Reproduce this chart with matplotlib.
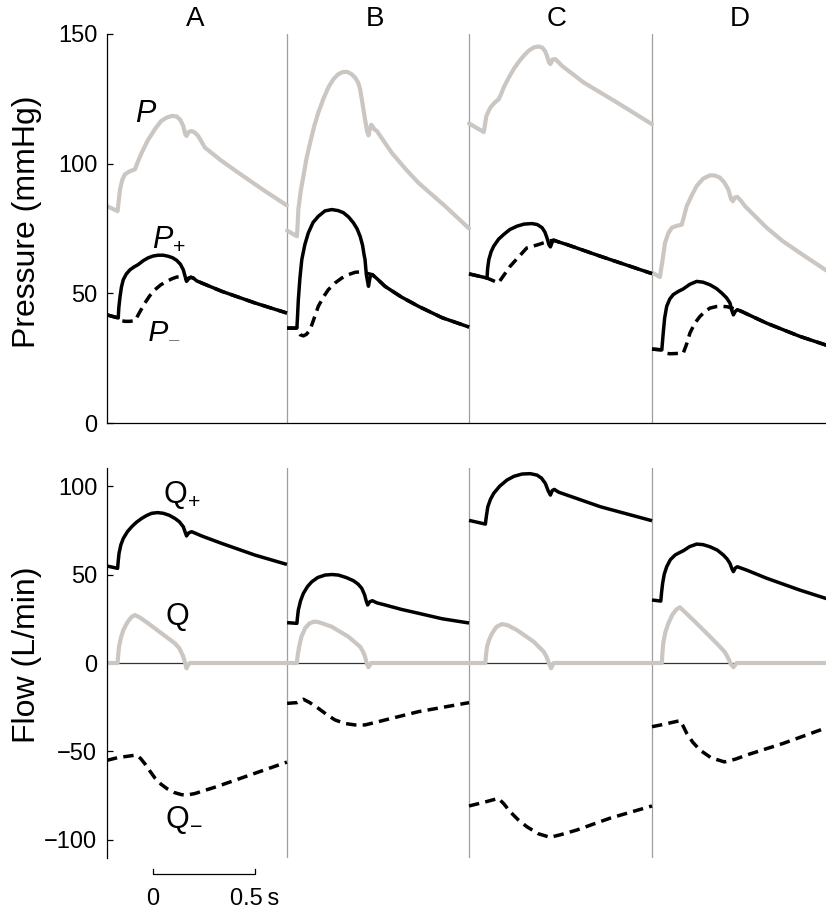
import matplotlib
matplotlib.use("Agg")
import matplotlib.pyplot as plt
from matplotlib.transforms import blended_transform_factory

plt.rcParams['font.family'] = ['Liberation Sans', 'DejaVu Sans']
plt.rcParams['mathtext.fontset'] = 'custom'
plt.rcParams['mathtext.rm'] = 'Liberation Sans'
plt.rcParams['mathtext.it'] = 'Liberation Sans:italic'

# ---------------------------------------------------------------------------
# Data: one beat per column, time in s from the start of each column
# ---------------------------------------------------------------------------
columns = ['A', 'B', 'C', 'D']
beat_start = [-0.226, 0.657, 1.549, 2.446]   # s, relative to the scale bar's zero
x_end = 3.299

# Pressure P (mmHg)
P_t = [
    [0, 0.052, 0.058, 0.064, 0.075, 0.088, 0.110, 0.137, 0.150, 0.170, 0.200, 0.235, 0.265, 0.293, 0.318, 0.342,
     0.360, 0.374, 0.383, 0.390, 0.400, 0.415, 0.430, 0.447, 0.480, 0.560, 0.644, 0.775, 0.882],
    [0, 0.048, 0.052, 0.055, 0.067, 0.080, 0.095, 0.113, 0.133, 0.153, 0.178, 0.202, 0.227, 0.251, 0.272, 0.293,
     0.315, 0.333, 0.348, 0.358, 0.370, 0.382, 0.392, 0.399, 0.406, 0.412, 0.418, 0.428, 0.440, 0.513, 0.580,
     0.644, 0.775, 0.892],
    [0, 0.072, 0.078, 0.085, 0.104, 0.125, 0.146, 0.158, 0.170, 0.195, 0.219, 0.245, 0.268, 0.293, 0.317, 0.340,
     0.358, 0.372, 0.382, 0.392, 0.399, 0.410, 0.423, 0.440, 0.456, 0.562, 0.725, 0.897],
    [0, 0.039, 0.045, 0.052, 0.064, 0.080, 0.097, 0.120, 0.146, 0.158, 0.170, 0.195, 0.219, 0.250, 0.284, 0.310,
     0.333, 0.355, 0.374, 0.387, 0.396, 0.407, 0.418, 0.435, 0.456, 0.562, 0.640, 0.725, 0.855],
]
P = [
    [83.6, 81.7, 86.0, 90.1, 93.8, 95.9, 97.0, 97.8, 100.5, 104.2, 109.0, 113.3, 116.4, 117.8, 118.4, 118.2,
     116.8, 114.5, 111.5, 110.7, 112.2, 112.6, 112.0, 110.7, 106.2, 101.2, 96.5, 89.4, 83.9],
    [74.2, 72.0, 77.0, 82.3, 89.5, 95.2, 102.0, 108.1, 114.5, 119.7, 125.0, 129.4, 132.6, 134.5, 135.3, 135.4,
     134.6, 133.2, 131.3, 128.7, 123.0, 117.1, 112.5, 110.9, 113.5, 115.0, 114.5, 113.2, 112.6, 104.2, 98.0,
     92.6, 83.6, 75.0],
    [115.5, 112.2, 115.0, 118.4, 121.6, 123.5, 124.9, 127.0, 129.4, 133.2, 136.5, 139.4, 141.6, 143.6, 144.8, 145.2,
     144.8, 143.5, 141.6, 139.0, 138.4, 140.2, 140.3, 139.0, 137.7, 131.3, 123.6, 115.2],
    [58.0, 56.3, 59.5, 63.0, 69.5, 73.2, 75.3, 76.0, 76.5, 80.0, 83.6, 87.8, 91.4, 94.2, 95.5, 95.4,
     94.6, 92.7, 90.1, 86.5, 85.5, 87.0, 87.2, 85.8, 83.6, 75.3, 70.2, 65.6, 58.8],
]

# Forward pressure P+ (mmHg)
Pf_t = [
    [0, 0.055, 0.058, 0.064, 0.071, 0.080, 0.095, 0.113, 0.133, 0.153, 0.178, 0.202, 0.227, 0.251, 0.276, 0.300,
     0.322, 0.342, 0.360, 0.374, 0.383, 0.390, 0.400, 0.411, 0.423, 0.440, 0.464, 0.562, 0.725, 0.882],
    [0, 0.048, 0.051, 0.055, 0.063, 0.072, 0.087, 0.104, 0.127, 0.153, 0.186, 0.219, 0.250, 0.276, 0.302, 0.325,
     0.343, 0.358, 0.370, 0.377, 0.382, 0.387, 0.390, 0.399, 0.405, 0.410, 0.418, 0.440, 0.480, 0.560, 0.644,
     0.760, 0.892],
    [0, 0.088, 0.091, 0.097, 0.108, 0.121, 0.145, 0.170, 0.200, 0.235, 0.270, 0.309, 0.335, 0.358, 0.372, 0.382,
     0.392, 0.399, 0.407, 0.415, 0.440, 0.480, 0.644, 0.897],
    [0, 0.048, 0.051, 0.055, 0.062, 0.072, 0.087, 0.104, 0.128, 0.153, 0.186, 0.219, 0.250, 0.284, 0.315, 0.342,
     0.365, 0.382, 0.392, 0.399, 0.408, 0.418, 0.440, 0.464, 0.562, 0.725, 0.855],
]
Pf = [
    [41.7, 40.5, 44.5, 48.8, 52.5, 55.3, 57.5, 59.1, 60.2, 61.1, 62.6, 63.7, 64.4, 64.7, 64.7, 64.3,
     63.7, 62.7, 61.2, 59.1, 56.5, 54.6, 55.6, 56.2, 55.9, 54.8, 54.0, 50.8, 46.3, 42.4],
    [36.6, 36.6, 41.0, 47.5, 56.0, 63.0, 68.8, 73.3, 77.3, 79.7, 81.8, 82.3, 81.9, 81.1, 79.4, 77.2,
     74.9, 72.0, 68.5, 65.0, 63.0, 58.5, 56.5, 52.7, 55.5, 57.0, 57.2, 55.7, 52.7, 48.6, 45.0,
     40.6, 37.0],
    [57.5, 55.9, 59.5, 63.0, 66.0, 68.2, 70.9, 72.7, 74.6, 75.9, 76.7, 76.9, 76.5, 75.3, 73.6, 71.4,
     68.7, 67.9, 69.6, 70.5, 69.8, 68.8, 64.3, 57.6],
    [28.5, 28.2, 31.0, 34.7, 40.5, 45.0, 47.8, 49.5, 50.7, 51.7, 53.5, 54.6, 54.3, 53.3, 51.9, 50.1,
     48.3, 46.3, 43.2, 41.7, 43.0, 43.7, 43.0, 42.1, 38.5, 33.4, 30.0],
]

# Backward pressure P- (mmHg)
Pb_t = [
    [0, 0.055, 0.075, 0.088, 0.110, 0.137, 0.160, 0.186, 0.210, 0.235, 0.264, 0.293, 0.318, 0.342, 0.365, 0.390,
     0.411, 0.423, 0.440, 0.464, 0.562, 0.725, 0.882],
    [0, 0.048, 0.065, 0.080, 0.095, 0.113, 0.133, 0.153, 0.178, 0.202, 0.235, 0.268, 0.300, 0.333, 0.358, 0.382,
     0.418, 0.440, 0.480, 0.560, 0.644, 0.760, 0.892],
    [0, 0.088, 0.144, 0.201, 0.283, 0.340, 0.389, 0.415, 0.440, 0.480, 0.644, 0.897],
    [0, 0.048, 0.070, 0.088, 0.153, 0.170, 0.186, 0.210, 0.235, 0.260, 0.284, 0.315, 0.342, 0.370, 0.391,
     0.418, 0.440, 0.464, 0.562, 0.725, 0.855],
]
Pb = [
    [41.7, 40.5, 39.4, 39.2, 39.2, 39.4, 42.7, 46.3, 49.1, 51.4, 53.3, 54.6, 55.6, 56.3, 56.3, 55.5,
     56.2, 55.9, 54.8, 54.0, 50.8, 46.3, 42.4],
    [36.6, 36.6, 34.0, 33.6, 34.2, 36.0, 40.5, 45.0, 48.6, 51.4, 54.0, 55.9, 57.2, 58.1, 58.3, 57.9,
     57.2, 55.7, 52.7, 48.6, 45.0, 40.6, 37.0],
    [57.5, 55.9, 54.0, 60.4, 67.5, 68.8, 70.1, 70.5, 69.8, 68.8, 64.3, 57.6],
    [28.5, 28.2, 26.9, 26.7, 26.9, 30.5, 34.7, 38.5, 41.1, 43.0, 44.3, 44.9, 45.0, 44.8, 44.3,
     43.7, 43.0, 42.1, 38.5, 33.4, 30.0],
]

# Forward flow Q+ (L/min)
Qf_t = [
    [0, 0.052, 0.055, 0.059, 0.068, 0.080, 0.100, 0.121, 0.145, 0.170, 0.195, 0.219, 0.248, 0.276, 0.305, 0.333,
     0.355, 0.374, 0.383, 0.390, 0.400, 0.415, 0.440, 0.464, 0.562, 0.725, 0.882],
    [0, 0.048, 0.051, 0.055, 0.066, 0.080, 0.100, 0.121, 0.150, 0.186, 0.220, 0.251, 0.290, 0.325, 0.348, 0.366,
     0.380, 0.388, 0.395, 0.405, 0.418, 0.440, 0.480, 0.560, 0.644, 0.760, 0.892],
    [0, 0.080, 0.085, 0.092, 0.105, 0.121, 0.150, 0.186, 0.220, 0.260, 0.300, 0.333, 0.355, 0.374, 0.388, 0.399,
     0.408, 0.418, 0.440, 0.480, 0.644, 0.897],
    [0, 0.043, 0.047, 0.052, 0.060, 0.072, 0.090, 0.113, 0.130, 0.153, 0.185, 0.219, 0.250, 0.284, 0.320, 0.350,
     0.368, 0.382, 0.392, 0.399, 0.408, 0.418, 0.440, 0.464, 0.562, 0.725, 0.855],
]
Qf = [
    [54.8, 53.5, 57.5, 62.0, 66.8, 70.4, 74.2, 77.0, 79.6, 81.7, 83.4, 84.6, 85.0, 84.6, 83.5, 81.7,
     79.8, 77.0, 74.0, 71.8, 73.5, 74.2, 73.0, 71.8, 67.6, 61.0, 55.7],
    [22.8, 22.4, 26.0, 29.9, 35.2, 39.4, 43.2, 45.9, 48.3, 49.7, 50.0, 49.7, 48.3, 46.5, 44.6, 42.2,
     38.5, 35.0, 32.8, 34.6, 35.2, 34.0, 32.8, 30.3, 28.1, 25.0, 22.6],
    [80.6, 78.5, 83.0, 88.3, 92.5, 95.9, 99.9, 103.4, 105.5, 106.8, 107.0, 106.2, 104.5, 101.5, 97.3, 94.9,
     97.5, 98.1, 96.5, 94.9, 88.3, 80.4],
    [35.6, 35.0, 40.0, 45.0, 50.2, 54.4, 58.4, 61.0, 62.1, 63.4, 65.8, 67.2, 66.9, 65.7, 63.8, 61.0,
     58.8, 56.3, 53.2, 51.6, 53.6, 54.4, 53.5, 52.5, 47.9, 41.2, 36.4],
]

# Measured flow Q (L/min)
Q_t = [
    [0, 0.052, 0.055, 0.059, 0.068, 0.080, 0.100, 0.120, 0.137, 0.160, 0.202, 0.267, 0.333, 0.355, 0.374, 0.383,
     0.390, 0.397, 0.407, 0.882],
    [0, 0.048, 0.052, 0.059, 0.070, 0.088, 0.110, 0.130, 0.146, 0.175, 0.219, 0.300, 0.358, 0.372, 0.382, 0.390,
     0.399, 0.412, 0.892],
    [0, 0.080, 0.083, 0.088, 0.100, 0.113, 0.135, 0.162, 0.190, 0.235, 0.317, 0.366, 0.380, 0.391, 0.402, 0.415,
     0.897],
    [0, 0.048, 0.051, 0.055, 0.065, 0.080, 0.100, 0.120, 0.137, 0.150, 0.202, 0.268, 0.333, 0.358, 0.374, 0.386,
     0.399, 0.415, 0.855],
]
Q = [
    [0, 0, 4.5, 9.2, 14.2, 18.6, 23.0, 26.0, 27.1, 25.8, 22.4, 16.8, 11.1, 8.3, 3.6, 0,
     -3.0, -1.2, 0, 0],
    [0, 0, 4.5, 9.2, 14.8, 19.6, 22.4, 23.3, 23.3, 22.3, 20.5, 14.9, 9.2, 6.5, 3.6, 0,
     -2.4, 0, 0],
    [0, 0, 4.5, 9.2, 13.6, 16.8, 20.5, 22.0, 21.3, 18.6, 12.0, 6.4, 3.5, 0, -3.0, 0,
     0],
    [0, 0, 5.5, 11.1, 17.2, 22.4, 27.3, 30.3, 31.5, 30.0, 24.3, 16.8, 9.2, 6.0, 2.6, -0.5,
     -2.4, 0, 0],
]

# Backward flow Q- (L/min)
Qb_t = [
    [0, 0.052, 0.145, 0.165, 0.186, 0.210, 0.235, 0.265, 0.294, 0.330, 0.365, 0.392, 0.430, 0.537, 0.701, 0.882],
    [0, 0.048, 0.080, 0.110, 0.153, 0.195, 0.235, 0.285, 0.333, 0.382, 0.425, 0.480, 0.644, 0.892],
    [0, 0.080, 0.144, 0.170, 0.201, 0.240, 0.283, 0.340, 0.397, 0.450, 0.528, 0.691, 0.897],
    [0, 0.043, 0.137, 0.152, 0.170, 0.200, 0.235, 0.290, 0.355, 0.410, 0.464, 0.644, 0.855],
]
Qb = [
    [-55.0, -53.5, -52.0, -54.0, -57.0, -61.0, -65.0, -68.5, -71.0, -73.2, -74.4, -74.6, -73.8, -69.9, -63.3, -56.0],
    [-22.8, -22.4, -20.5, -22.3, -25.6, -29.2, -32.2, -34.2, -35.0, -35.0, -33.8, -32.2, -27.5, -22.4],
    [-80.8, -78.5, -76.5, -79.5, -84.0, -88.5, -92.5, -96.5, -98.5, -97.0, -94.4, -87.7, -80.8],
    [-36.0, -35.0, -32.6, -35.5, -39.7, -44.8, -49.2, -53.6, -55.9, -54.3, -52.0, -45.4, -36.6],
]

# ---------------------------------------------------------------------------
GRAY = '#cbc6c1'
SEP = '#a39e99'
W, H = 826, 915

fig = plt.figure(figsize=(W / 100, H / 100), dpi=100)
ax_p = fig.add_axes([107 / W, 1 - 423 / H, 1 - 107 / W, (423 - 34) / H])
ax_q = fig.add_axes([107 / W, 1 - 858 / H, 1 - 107 / W, (858 - 468) / H])

solid_kw = dict(color='black', lw=2.5, solid_joinstyle='round', solid_capstyle='butt', zorder=4)
dash_kw = dict(color='black', lw=2.5, dashes=(3.0, 1.8), dash_capstyle='butt', zorder=3)
gray_kw = dict(color=GRAY, lw=3.0, solid_joinstyle='round', solid_capstyle='round', zorder=2)


def shift(ts, k):
    return [beat_start[k] + t for t in ts]


for k in range(len(columns)):
    ax_p.plot(shift(P_t[k], k), P[k], **gray_kw)
    ax_p.plot(shift(Pb_t[k], k), Pb[k], **dash_kw)
    ax_p.plot(shift(Pf_t[k], k), Pf[k], **solid_kw)

    ax_q.plot(shift(Q_t[k], k), Q[k], **gray_kw)
    ax_q.plot(shift(Qb_t[k], k), Qb[k], **dash_kw)
    ax_q.plot(shift(Qf_t[k], k), Qf[k], **solid_kw)

ax_q.axhline(0, color='#333333', lw=0.9, zorder=1)

for ax in (ax_p, ax_q):
    ax.set_xlim(beat_start[0], x_end)
    for b in beat_start[1:]:
        ax.axvline(b, color=SEP, lw=0.9, zorder=0)
    ax.set_xticks([])
    ax.spines['top'].set_visible(False)
    ax.spines['right'].set_visible(False)
    ax.spines['left'].set_linewidth(0.9)
    ax.spines['bottom'].set_linewidth(0.9)
    ax.tick_params(axis='y', direction='in', length=4, width=0.9, pad=7, labelsize=17)
    ax.patch.set_alpha(0)

ax_p.set_ylim(0, 150)
ax_p.set_yticks([0, 50, 100, 150])
ax_q.set_ylim(-110.2, 110.2)
ax_q.set_yticks([-100, -50, 0, 50, 100])
ax_q.spines['bottom'].set_visible(False)

# column titles
title_tr = blended_transform_factory(ax_p.transData, fig.transFigure)
for k, name in enumerate(columns):
    fig.text(beat_start[k] + 0.43, 1 - 19 / H, name, fontsize=20, ha='center', va='center',
             transform=title_tr)

# axis titles
fig.text(27 / W, 1 - 222 / H, 'Pressure (mmHg)', rotation=90, fontsize=23, ha='center', va='center')
fig.text(27 / W, 1 - 655 / H, 'Flow (L/min)', rotation=90, fontsize=23, ha='center', va='center')

# curve labels
ax_p.text(-0.088, 116.0, r'$P$', fontsize=22, ha='left', va='baseline')
ax_p.text(-0.003, 68.0, r'$P_{+}$', fontsize=22, ha='left', va='baseline')
ax_p.text(-0.028, 32.9, r'$P_{-}$', fontsize=22, ha='left', va='baseline')
ax_q.text(0.047, 90.4, r'$\mathrm{Q}_{+}$', fontsize=22, ha='left', va='baseline')
ax_q.text(0.057, 21.5, r'$\mathrm{Q}$', fontsize=22, ha='left', va='baseline')
ax_q.text(0.057, -93.2, r'$\mathrm{Q}_{-}$', fontsize=22, ha='left', va='baseline')

# time scale bar
tr = blended_transform_factory(ax_q.transData, fig.transFigure)
y_bar = 1 - 874 / H
y_tk = 1 - 869 / H
ax_q.plot([0, 0, 0.5, 0.5], [y_tk, y_bar, y_bar, y_tk], color='black', lw=0.9,
          transform=tr, clip_on=False)
ax_q.text(0, 1 - 899 / H, '0', fontsize=17, ha='center', va='center', transform=tr)
ax_q.text(0.5, 1 - 899 / H, '0.5\u2009s', fontsize=17, ha='center', va='center', transform=tr)

fig.savefig('out.png', dpi=100, facecolor='white')
